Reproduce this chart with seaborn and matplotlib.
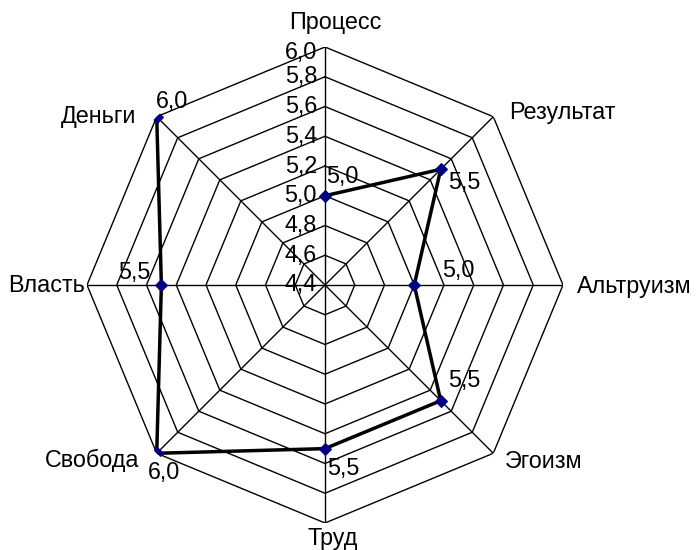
import numpy as np
import pandas as pd
import matplotlib
matplotlib.use("Agg")
import matplotlib.pyplot as plt
import seaborn as sns

# values
categories = ["Процесс", "Результат", "Альтруизм", "Эгоизм", "Труд", "Свобода", "Власть", "Деньги"]
values = [5.0, 5.5, 5.0, 5.5, 5.5, 6.0, 5.5, 6.0]
ring_values = [4.4, 4.6, 4.8, 5.0, 5.2, 5.4, 5.6, 5.8, 6.0]
ring_labels = ["4,4", "4,6", "4,8", "5,0", "5,2", "5,4", "5,6", "5,8", "6,0"]
value_labels = ["5,0", "5,5", "5,0", "5,5", "5,5", "6,0", "5,5", "6,0"]


def main():
    sns.set_style("white")
    plt.rcParams["font.family"] = ["Liberation Sans", "DejaVu Sans"]
    plt.rcParams["text.color"] = "black"
    fs = 16.8

    W, H = 696, 550
    cx, cy, R = 325, 285, 238
    fig = plt.figure(figsize=(W / 100, H / 100), dpi=100)
    ax = fig.add_axes([(cx - R) / W, (H - cy - R) / H, 2 * R / W, 2 * R / H],
                      projection="polar")
    ax.set_theta_zero_location("N")
    ax.set_theta_direction(-1)
    ax.set_ylim(ring_values[0], ring_values[-1])
    ax.grid(False)
    ax.spines["polar"].set_visible(False)
    ax.set_xticks([])
    ax.set_yticks([])

    n = len(categories)
    theta = np.arange(n) * 2 * np.pi / n
    closed = np.append(theta, theta[0])

    # octagon rings and spokes
    for r in ring_values[1:]:
        ax.plot(closed, [r] * (n + 1), color="black", lw=1.0, zorder=1)
    for t in theta:
        ax.plot([t, t], [ring_values[0], ring_values[-1]], color="black", lw=1.0, zorder=1)

    df = pd.DataFrame({"theta": closed, "value": values + [values[0]]})
    sns.lineplot(data=df, x="theta", y="value", sort=False, ax=ax, color="black",
                 lw=2.5, marker="D", markersize=6.5, markerfacecolor="#000080",
                 markeredgecolor="#000080", zorder=3)
    ax.set_xlabel("")
    ax.set_ylabel("")

    # axis value labels on the top spoke
    for r, lab in zip(ring_values, ring_labels):
        dy = -6 if r == ring_values[-1] else 0
        ax.annotate(lab, xy=(0, r), xytext=(-8, dy), textcoords="offset pixels",
                    ha="right", va="center", fontsize=fs, color="black")

    # data labels
    offsets = [(17, 19), (24, -13), (44, 15), (24, 20), (18, -20), (7, -19), (-27, 12), (15, 15)]
    for t, v, lab, (dx, dy) in zip(theta, values, value_labels, offsets):
        ax.annotate(lab, xy=(t, v), xytext=(dx, dy), textcoords="offset pixels",
                    ha="center", va="center", fontsize=fs, color="black")

    # category names
    name_pos = [(335, 22), (562, 113), (634, 286), (544, 461),
                (333, 538), (92, 460), (47, 285), (99, 117)]
    for name, (px, py) in zip(categories, name_pos):
        fig.text(px / W, 1 - py / H, name, ha="center", va="center", fontsize=fs, color="black")

    fig.savefig("out.png", dpi=100, facecolor="white")


if __name__ == "__main__":
    main()
